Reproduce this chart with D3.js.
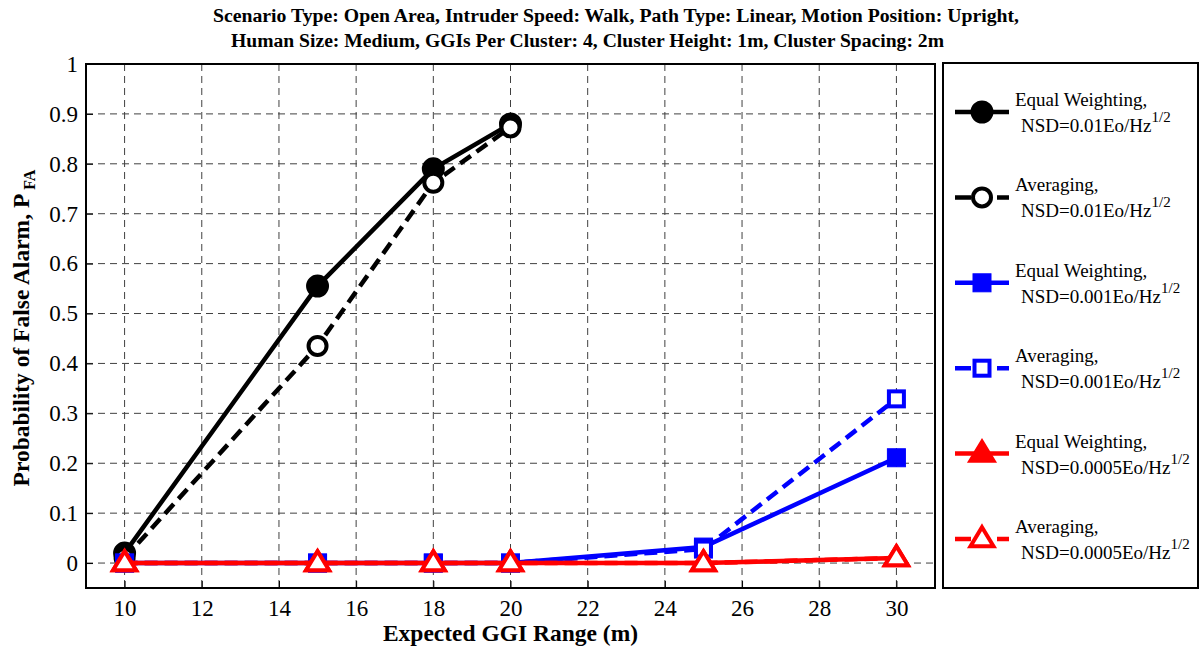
<!DOCTYPE html>
<html>
<head>
<meta charset="utf-8">
<script src="https://cdn.jsdelivr.net/npm/d3@7/dist/d3.min.js"></script>
<style>
  html, body { margin: 0; padding: 0; background: #fff; }
  svg { display: block; font-family: "Liberation Serif", "DejaVu Serif", serif; }
</style>
</head>
<body>
<svg id="chart" width="1200" height="648"></svg>
<script>
// Expected GGI range (m) for each sample
const rangeM = [10, 15, 18, 20, 25, 30];
const rangeHigh = [10, 15, 18, 20];

// Probability of false alarm for each detector / noise level
const ewHigh  = [0.02, 0.555, 0.79, 0.88];
const avgHigh = [0.01, 0.435, 0.762, 0.873];
const ewMid   = [0, 0, 0, 0, 0.032, 0.211];
const avgMid  = [0, 0, 0, 0, 0.028, 0.329];
const ewLow   = [0, 0, 0, 0, 0, 0.01];
const avgLow  = [0, 0, 0, 0, 0, 0.01];

const xTicks = [10, 12, 14, 16, 18, 20, 22, 24, 26, 28, 30];
const yTicks = [0, 0.1, 0.2, 0.3, 0.4, 0.5, 0.6, 0.7, 0.8, 0.9, 1];
const yTickLabels = ["0", "0.1", "0.2", "0.3", "0.4", "0.5", "0.6", "0.7", "0.8", "0.9", "1"];

const titleLines = [
  "Scenario Type: Open Area, Intruder Speed: Walk, Path Type: Linear, Motion Position: Upright,",
  "Human Size: Medium, GGIs Per Cluster: 4, Cluster Height: 1m, Cluster Spacing: 2m"
];
const legendMethod = ["Equal Weighting,", "Averaging,", "Equal Weighting,", "Averaging,", "Equal Weighting,", "Averaging,"];
const legendNsd = ["NSD=0.01Eo/Hz", "NSD=0.01Eo/Hz", "NSD=0.001Eo/Hz", "NSD=0.001Eo/Hz", "NSD=0.0005Eo/Hz", "NSD=0.0005Eo/Hz"];

const series = [
  { xs: rangeHigh, ys: ewHigh,  color: "#000000", dashed: false, marker: "circle",   filled: true },
  { xs: rangeHigh, ys: avgHigh, color: "#000000", dashed: true,  marker: "circle",   filled: false },
  { xs: rangeM,    ys: ewMid,   color: "#0000ff", dashed: false, marker: "square",   filled: true },
  { xs: rangeM,    ys: avgMid,  color: "#0000ff", dashed: true,  marker: "square",   filled: false },
  { xs: rangeM,    ys: ewLow,   color: "#ff0000", dashed: false, marker: "triangle", filled: true },
  { xs: rangeM,    ys: avgLow,  color: "#ff0000", dashed: true,  marker: "triangle", filled: false }
];

const svg = d3.select("#chart");
const plot = { left: 86, right: 935, top: 64, bottom: 588 };

const x = d3.scaleLinear().domain([9, 31]).range([plot.left, plot.right]);
const y = d3.scaleLinear().domain([-0.05, 1]).range([plot.bottom, plot.top]);

// Grid lines
const grid = svg.append("g").attr("stroke", "#404040").attr("stroke-width", 1)
  .attr("stroke-dasharray", "7,5");
grid.selectAll("line.gx").data(xTicks).join("line")
  .attr("x1", d => x(d)).attr("x2", d => x(d))
  .attr("y1", plot.top).attr("y2", plot.bottom);
grid.selectAll("line.gy").data(yTicks).join("line")
  .attr("x1", plot.left).attr("x2", plot.right)
  .attr("y1", d => y(d)).attr("y2", d => y(d));

// Axes with inward ticks
const xAxis = d3.axisBottom(x).tickValues(xTicks).tickSizeInner(-7).tickSizeOuter(0).tickPadding(12)
  .tickFormat(d3.format("d"));
const yAxis = d3.axisLeft(y).tickValues(yTicks).tickSizeInner(-7).tickSizeOuter(0).tickPadding(8)
  .tickFormat((d, i) => yTickLabels[i]);

const gx = svg.append("g").attr("transform", `translate(0,${plot.bottom})`).call(xAxis);
const gy = svg.append("g").attr("transform", `translate(${plot.left},0)`).call(yAxis);
[gx, gy].forEach(g => {
  g.attr("font-family", null).attr("font-size", null);
  g.select(".domain").remove();
  g.selectAll(".tick line").attr("stroke", "#000").attr("stroke-width", 1);
  g.selectAll(".tick text").attr("font-family", "Liberation Serif").attr("font-size", 23).attr("fill", "#000");
});
gx.selectAll(".tick text").attr("dy", "0.71em");

// Plot box
svg.append("rect")
  .attr("x", plot.left).attr("y", plot.top)
  .attr("width", plot.right - plot.left).attr("height", plot.bottom - plot.top)
  .attr("fill", "none").attr("stroke", "#000").attr("stroke-width", 2);

// Marker drawing
function drawMarker(g, type, filled, color, cx, cy) {
  const fill = filled ? color : "#fff";
  if (type === "circle") {
    g.append("circle").attr("cx", cx).attr("cy", cy).attr("r", filled ? 10.5 : 9)
      .attr("fill", fill).attr("stroke", color).attr("stroke-width", filled ? 2 : 4);
  } else if (type === "square") {
    const s = filled ? 18 : 15;
    g.append("rect").attr("x", cx - s / 2).attr("y", cy - s / 2).attr("width", s).attr("height", s)
      .attr("fill", fill).attr("stroke", color).attr("stroke-width", filled ? 1 : 4);
  } else {
    const h = 19, w = 23;
    const pts = [[cx, cy - h * 0.62], [cx + w / 2, cy + h * 0.38], [cx - w / 2, cy + h * 0.38]];
    g.append("polygon").attr("points", pts.map(p => p.join(",")).join(" "))
      .attr("fill", fill).attr("stroke", color).attr("stroke-width", 4).attr("stroke-linejoin", "miter");
  }
}

const line = d3.line().x(d => x(d[0])).y(d => y(d[1]));
const marks = svg.append("g");
series.forEach(s => {
  const pts = s.xs.map((v, i) => [v, s.ys[i]]);
  const g = marks.append("g");
  g.append("path").attr("d", line(pts)).attr("fill", "none")
    .attr("stroke", s.color).attr("stroke-width", 4.5)
    .attr("stroke-dasharray", s.dashed ? "13,7" : null);
  pts.forEach(p => drawMarker(g, s.marker, s.filled, s.color, x(p[0]), y(p[1])));
});

// Title
svg.append("text").attr("x", 213).attr("y", 22).attr("font-size", 18).attr("font-weight", "bold")
  .attr("textLength", 806).attr("lengthAdjust", "spacingAndGlyphs").text(titleLines[0]);
svg.append("text").attr("x", 231).attr("y", 47).attr("font-size", 18).attr("font-weight", "bold")
  .attr("textLength", 713).attr("lengthAdjust", "spacingAndGlyphs").text(titleLines[1]);

// Axis labels
svg.append("text").attr("x", x(20)).attr("y", 641).attr("text-anchor", "middle")
  .attr("font-size", 23.5).attr("font-weight", "bold").text("Expected GGI Range (m)");
const yl = svg.append("text").attr("transform", "translate(29,328) rotate(-90)")
  .attr("text-anchor", "middle").attr("font-size", 23.5).attr("font-weight", "bold");
yl.append("tspan").text("Probability of False Alarm, P");
yl.append("tspan").attr("font-size", 16).attr("dy", 6).text(" FA");

// Legend
const leg = svg.append("g");
leg.append("rect").attr("x", 943).attr("y", 63).attr("width", 255).attr("height", 525)
  .attr("fill", "#fff").attr("stroke", "#000").attr("stroke-width", 2);
series.forEach((s, i) => {
  const cy = 112 + i * 85.4;
  const g = leg.append("g");
  g.append("line").attr("x1", 955).attr("x2", 1009).attr("y1", cy).attr("y2", cy)
    .attr("stroke", s.color).attr("stroke-width", 4.5)
    .attr("stroke-dasharray", s.dashed ? "16,26,12" : null);
  drawMarker(g, s.marker, s.filled, s.color, 982, cy);
  g.append("text").attr("x", 1015).attr("y", cy - 6).attr("font-size", 19).text(legendMethod[i]);
  const t = g.append("text").attr("x", 1021).attr("y", cy + 20).attr("font-size", 19);
  t.append("tspan").text(legendNsd[i]);
  t.append("tspan").attr("font-size", 15).attr("dy", -10).text("1/2");
});
</script>
</body>
</html>
